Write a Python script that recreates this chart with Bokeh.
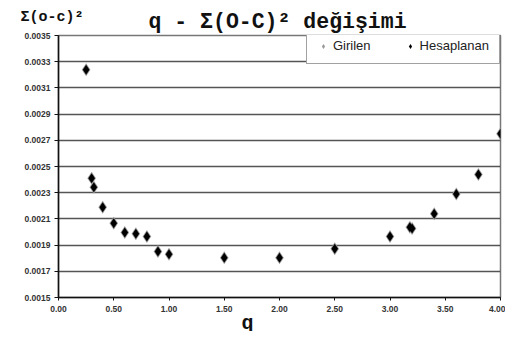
from bokeh.plotting import figure
from bokeh.models import (Range1d, PrintfTickFormatter, FixedTicker, Label,
                          Legend, LegendItem, ColumnDataSource)
from bokeh.embed import file_html
from bokeh.resources import INLINE

# ---- data ----
q_values = [0.25, 0.30, 0.32, 0.40, 0.50, 0.60, 0.70, 0.80, 0.90, 1.00,
            1.50, 2.00, 2.50, 3.00, 3.18, 3.20, 3.40, 3.60, 3.80, 4.00]
girilen = [0.003238, 0.002411, 0.002342, 0.002189, 0.002067, 0.001996,
           0.001986, 0.001966, 0.001851, 0.001831, 0.001803, 0.001803,
           0.001872, 0.001966, 0.002037, 0.002027, 0.002139, 0.002291,
           0.002439, 0.002750]
hesaplanan = [0.003238, 0.002411, 0.002342, 0.002189, 0.002067, 0.001996,
              0.001986, 0.001966, 0.001851, 0.001831, 0.001803, 0.001803,
              0.001872, 0.001966, 0.002037, 0.002027, 0.002139, 0.002291,
              0.002439, 0.002750]
y_ticks = [0.0015, 0.0017, 0.0019, 0.0021, 0.0023, 0.0025, 0.0027,
           0.0029, 0.0031, 0.0033, 0.0035]
x_ticks = [0.0, 0.5, 1.0, 1.5, 2.0, 2.5, 3.0, 3.5, 4.0]

title_text = "q - Σ(O-C)² değişimi"
ytitle_text = "Σ(o-c)²"
xtitle_text = "q"
legend_labels = ["Girilen", "Hesaplanan"]

src = ColumnDataSource(dict(q=q_values, g=girilen, h=hesaplanan))

p = figure(width=505, height=331, output_backend="svg", toolbar_location=None,
           x_range=Range1d(0, 4), y_range=Range1d(0.0015, 0.0035),
           min_border_left=58, min_border_right=5, min_border_top=35,
           min_border_bottom=34, background_fill_color="white",
           border_fill_color="white")

p.outline_line_color = "#777777"
p.outline_line_width = 1.5

p.xgrid.visible = False
p.ygrid.grid_line_color = "#555555"
p.ygrid.grid_line_width = 1.5

p.yaxis.ticker = FixedTicker(ticks=y_ticks)
p.xaxis.ticker = FixedTicker(ticks=x_ticks)
p.yaxis.formatter = PrintfTickFormatter(format="%.4f")
p.xaxis.formatter = PrintfTickFormatter(format="%.2f")
for ax in (p.xaxis, p.yaxis):
    ax.axis_line_color = "#111111"
    ax.axis_line_width = 1.5
    ax.major_tick_line_color = "#111111"
    ax.major_tick_in = 0
    ax.minor_tick_line_color = None
    ax.major_label_text_font = "Liberation Sans"
    ax.major_label_text_font_size = "8.5px"
    ax.major_label_text_font_style = "bold"
    ax.major_label_text_color = "#333333"
p.yaxis.major_tick_out = 4
p.yaxis.major_label_standoff = 4
p.xaxis.major_tick_out = 3
p.xaxis.major_label_standoff = 5

r_g = p.scatter("q", "g", source=src, marker="diamond", size=13,
                fill_color="#9a9a9a", line_color=None)
r_h = p.scatter("q", "h", source=src, marker="diamond", size=10,
                fill_color="#000000", line_color=None)

legend = Legend(items=[LegendItem(label=legend_labels[0], renderers=[r_g]),
                       LegendItem(label=legend_labels[1], renderers=[r_h])],
                orientation="horizontal", location=(248, 233),
                border_line_color="#444444", border_line_width=1.5,
                background_fill_color="white", background_fill_alpha=1,
                label_text_font="Liberation Sans", label_text_font_size="13px",
                label_text_color="#222222", glyph_width=12, glyph_height=12,
                label_standoff=4, spacing=33, padding=10, margin=0)
p.add_layout(legend)

# main title in the top panel
p.add_layout(Label(x=90, y=14, x_units="screen", y_units="screen",
                   text=title_text, text_font="Liberation Mono",
                   text_font_style="bold", text_font_size="21.5px",
                   text_color="#111111", text_baseline="alphabetic"), "above")
# y title (drawn at the top-left corner)
p.add_layout(Label(x=-38, y=314, x_units="screen", y_units="screen",
                   text=ytitle_text, text_font="Liberation Mono",
                   text_font_style="bold", text_font_size="15px",
                   text_color="#111111", text_baseline="alphabetic"), "below")
# x title (drawn below the x axis)
p.add_layout(Label(x=232, y=-26, x_units="screen", y_units="screen",
                   text=xtitle_text, text_font="Liberation Mono",
                   text_font_style="bold", text_font_size="20px",
                   text_color="#111111", text_baseline="alphabetic"), "left")

open("out.html", "w").write(file_html(p, INLINE))
